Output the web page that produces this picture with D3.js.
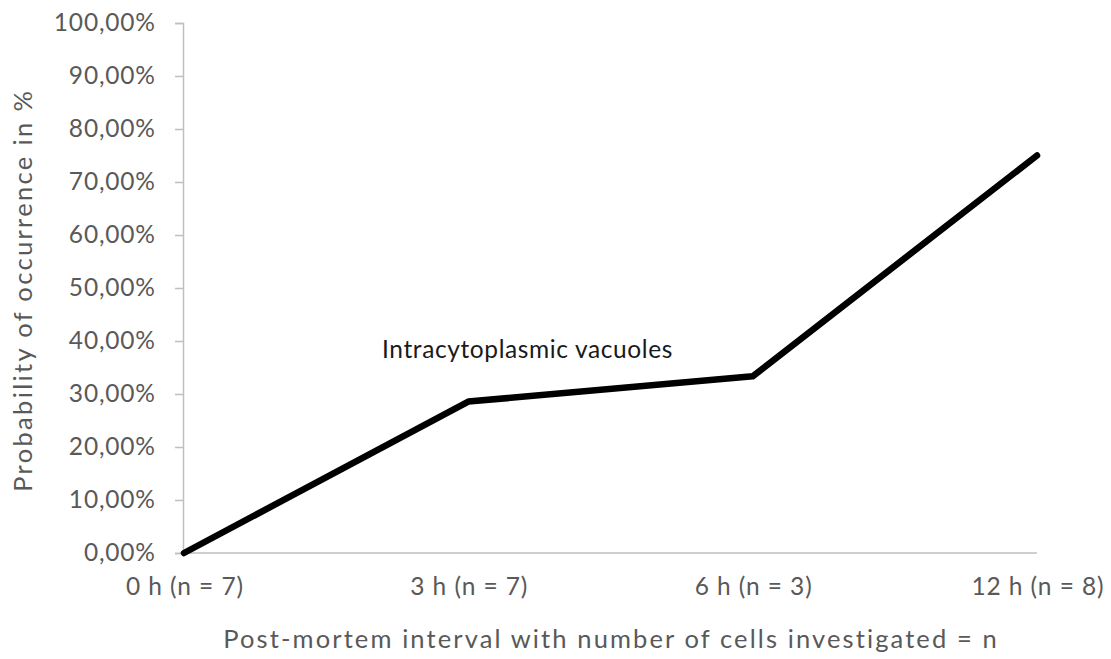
<!DOCTYPE html>
<html>
<head>
<meta charset="utf-8">
<script src="https://cdn.jsdelivr.net/npm/d3@7"></script>
<style>
  html, body { margin: 0; padding: 0; background: #fff; }
  svg { display: block; font-family: Lato, "Open Sans", sans-serif; }
</style>
</head>
<body>
<svg id="chart" width="1111" height="659"></svg>
<script>
// Post-mortem intervals (with number of cells investigated)
const categories = ["0 h (n = 7)", "3 h (n = 7)", "6 h (n = 3)", "12 h (n = 8)"];
// Probability of occurrence of intracytoplasmic vacuoles (fraction)
const vacuoles = [0, 2 / 7, 1 / 3, 6 / 8];
const yTicks = [0, 0.1, 0.2, 0.3, 0.4, 0.5, 0.6, 0.7, 0.8, 0.9, 1.0];
const seriesLabel = "Intracytoplasmic vacuoles";
const xTitle = "Post-mortem interval with number of cells investigated = n";
const yTitle = "Probability of occurrence in %";

const svg = d3.select("#chart");
const margin = { left: 183, right: 74, top: 23, bottom: 106 };
const W = 1111, H = 659;

// Spread a text's letters so it spans the given width
function spreadTo(sel, width) {
  const node = sel.node();
  const n = sel.text().length;
  const len = node.getComputedTextLength();
  const ls = Math.max(0, (width - len) / n);
  sel.attr("letter-spacing", ls);
  return ls;
}

const x = d3.scalePoint()
  .domain(categories)
  .range([margin.left + 1, W - margin.right])
  .padding(0);

const y = d3.scaleLinear()
  .domain([0, 1])
  .range([H - margin.bottom, margin.top]);

const pct = v => d3.format(".2f")(v * 100).replace(".", ",") + "%";

// Y axis
const yAxis = svg.append("g")
  .attr("transform", `translate(${margin.left},0)`)
  .call(d3.axisLeft(y).tickValues(yTicks).tickFormat(pct).tickSize(8).tickPadding(20));
yAxis.select(".domain").attr("stroke", "#bfbfbf").attr("stroke-width", 1.5);
yAxis.selectAll(".tick line").attr("stroke", "#bfbfbf").attr("stroke-width", 1.5);
const yLabels = yAxis.selectAll(".tick text")
  .attr("fill", "#595959")
  .attr("font-size", 24.5)
  .attr("font-family", "Lato, sans-serif");
const yLs = spreadTo(yLabels.filter(d => d === 1), 102);
yLabels.attr("letter-spacing", yLs).attr("x", -28 + yLs);

// X axis
const xAxis = svg.append("g")
  .attr("transform", `translate(0,${y(0)})`)
  .call(d3.axisBottom(x).tickSize(0).tickPadding(25));
xAxis.select(".domain")
  .attr("stroke", "#bfbfbf").attr("stroke-width", 1.5)
  .attr("d", `M${margin.left},0H${W - margin.right}`);
const xLabels = xAxis.selectAll(".tick text")
  .attr("fill", "#595959")
  .attr("font-size", 24.5)
  .attr("font-family", "Lato, sans-serif");
const xLs = spreadTo(xLabels.filter((d, i) => i === 0), 118);
xLabels.attr("letter-spacing", xLs).attr("dx", xLs / 2);

// Series line
const line = d3.line()
  .x((d, i) => x(categories[i]))
  .y(d => y(d));

svg.append("path")
  .datum(vacuoles)
  .attr("d", line)
  .attr("fill", "none")
  .attr("stroke", "#000")
  .attr("stroke-width", 6.5)
  .attr("stroke-linejoin", "round")
  .attr("stroke-linecap", "round");

// Series label
const lab = svg.append("text")
  .attr("x", 382)
  .attr("y", 358)
  .attr("font-size", 24.5)
  .attr("fill", "#1a1a1a")
  .text(seriesLabel);
spreadTo(lab, 291);

// Axis titles
const xt = svg.append("text")
  .attr("x", 610)
  .attr("y", 648)
  .attr("text-anchor", "middle")
  .attr("font-size", 25.5)
  .attr("fill", "#595959")
  .text(xTitle);
const xtLs = spreadTo(xt, 776);
xt.attr("dx", xtLs / 2);

const yt = svg.append("text")
  .attr("transform", "translate(32,291.5) rotate(-90)")
  .attr("text-anchor", "middle")
  .attr("font-size", 25.5)
  .attr("fill", "#595959")
  .text(yTitle);
const ytLs = spreadTo(yt, 403);
yt.attr("dx", ytLs / 2);
</script>
</body>
</html>
